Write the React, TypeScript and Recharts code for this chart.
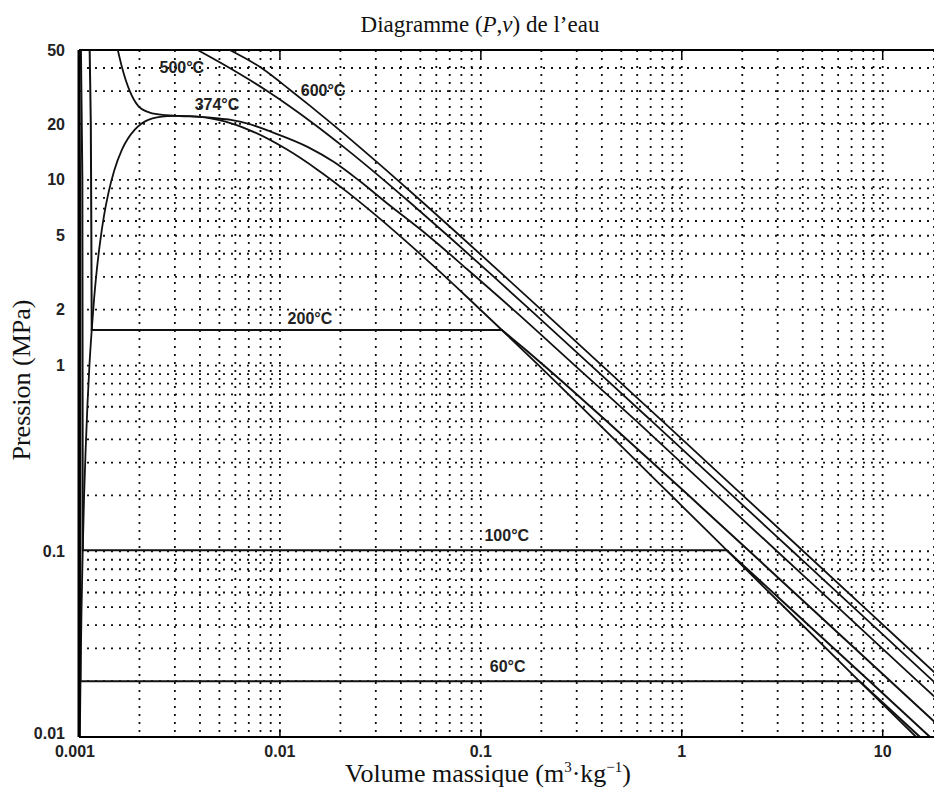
import React from 'react';
import { LineChart, Line, XAxis, YAxis, CartesianGrid, ReferenceLine, ReferenceDot } from 'recharts';

const W = 934;
const H = 789;

// Grid ticks (log axes)
const xGridTicks = [
  0.001, 0.002, 0.003, 0.004, 0.005, 0.006, 0.007, 0.008, 0.009,
  0.01, 0.02, 0.03, 0.04, 0.05, 0.06, 0.07, 0.08, 0.09,
  0.1, 0.2, 0.3, 0.4, 0.5, 0.6, 0.7, 0.8, 0.9,
  1, 2, 3, 4, 5, 6, 7, 8, 9, 10,
];
const yGridTicks = [
  0.01, 0.02, 0.03, 0.04, 0.05, 0.06, 0.07, 0.08, 0.09,
  0.1, 0.2, 0.3, 0.4, 0.5, 0.6, 0.7, 0.8, 0.9,
  1, 2, 3, 4, 5, 6, 7, 8, 9,
  10, 20, 30, 40, 50,
];
const xTickLabels = [0.001, 0.01, 0.1, 1, 10];
const yTickLabels = [0.01, 0.1, 1, 2, 5, 10, 20, 50];
const xMajorMarks = [0.01, 0.1, 1, 10];

// Saturation dome (v in m3/kg, p in MPa)
const saturationCurve = [
  { v: 0.00101, p: 0.01 },
  { v: 0.001017, p: 0.01995 },
  { v: 0.001029, p: 0.04739 },
  { v: 0.001044, p: 0.1013 },
  { v: 0.00106, p: 0.1985 },
  { v: 0.00108, p: 0.3613 },
  { v: 0.001102, p: 0.6178 },
  { v: 0.001127, p: 1.002 },
  { v: 0.001157, p: 1.554 },
  { v: 0.00119, p: 2.318 },
  { v: 0.001229, p: 3.344 },
  { v: 0.001276, p: 4.688 },
  { v: 0.001332, p: 6.412 },
  { v: 0.001404, p: 8.581 },
  { v: 0.001499, p: 11.27 },
  { v: 0.001638, p: 14.59 },
  { v: 0.001895, p: 18.65 },
  { v: 0.002036, p: 20.0 },
  { v: 0.002213, p: 21.03 },
  { v: 0.00275, p: 22.0 },
  { v: 0.003155, p: 22.09 },
  { v: 0.00357, p: 22.0 },
  { v: 0.004926, p: 21.03 },
  { v: 0.005834, p: 20.0 },
  { v: 0.006945, p: 18.65 },
  { v: 0.0108, p: 14.59 },
  { v: 0.01549, p: 11.27 },
  { v: 0.02167, p: 8.581 },
  { v: 0.03016, p: 6.412 },
  { v: 0.04219, p: 4.688 },
  { v: 0.05975, p: 3.344 },
  { v: 0.08609, p: 2.318 },
  { v: 0.1272, p: 1.554 },
  { v: 0.1941, p: 1.002 },
  { v: 0.3071, p: 0.6178 },
  { v: 0.5089, p: 0.3613 },
  { v: 0.8915, p: 0.1985 },
  { v: 1.672, p: 0.1013 },
  { v: 3.405, p: 0.04739 },
  { v: 7.667, p: 0.01995 },
  { v: 14.67, p: 0.01 },
];

const iso60 = [
  { v: 0.000995, p: 50 },
  { v: 0.001012, p: 10 },
  { v: 0.001017, p: 0.01995 },
  { v: 7.667, p: 0.01995 },
  { v: 15.34, p: 0.01 },
];

const iso100 = [
  { v: 0.001022, p: 50 },
  { v: 0.001039, p: 10 },
  { v: 0.001044, p: 0.1013 },
  { v: 1.673, p: 0.1013 },
  { v: 3.418, p: 0.05 },
  { v: 8.585, p: 0.02 },
  { v: 17.196, p: 0.01 },
];

const iso200 = [
  { v: 0.00113, p: 50 },
  { v: 0.001145, p: 20 },
  { v: 0.001152, p: 5 },
  { v: 0.001157, p: 1.554 },
  { v: 0.1272, p: 1.554 },
  { v: 0.143, p: 1.4 },
  { v: 0.1693, p: 1.2 },
  { v: 0.206, p: 1.0 },
  { v: 0.2608, p: 0.8 },
  { v: 0.4249, p: 0.5 },
  { v: 1.0803, p: 0.2 },
  { v: 2.172, p: 0.1 },
  { v: 4.356, p: 0.05 },
  { v: 10.9, p: 0.02 },
  { v: 21.83, p: 0.01 },
];

const iso374 = [
  { v: 0.00156, p: 50 },
  { v: 0.00164, p: 40 },
  { v: 0.00179, p: 30 },
  { v: 0.00197, p: 25 },
  { v: 0.00225, p: 23 },
  { v: 0.0027, p: 22.3 },
  { v: 0.0032, p: 22.05 },
  { v: 0.004, p: 21.8 },
  { v: 0.0048, p: 21.45 },
  { v: 0.0057, p: 21.0 },
  { v: 0.007, p: 20.0 },
  { v: 0.0092, p: 18.0 },
  { v: 0.0138, p: 15.0 },
  { v: 0.0185, p: 12.5 },
  { v: 0.0245, p: 10 },
  { v: 0.034, p: 7.5 },
  { v: 0.0547, p: 5 },
  { v: 0.0855, p: 3.3 },
  { v: 0.145, p: 2 },
  { v: 0.294, p: 1 },
  { v: 0.597, p: 0.5 },
  { v: 1.49, p: 0.2 },
  { v: 2.98, p: 0.1 },
  { v: 5.97, p: 0.05 },
  { v: 14.9, p: 0.02 },
  { v: 29.9, p: 0.01 },
];

const iso500 = [
  { v: 0.003892, p: 50 },
  { v: 0.005622, p: 40 },
  { v: 0.008679, p: 30 },
  { v: 0.011123, p: 25 },
  { v: 0.01477, p: 20 },
  { v: 0.0208, p: 15 },
  { v: 0.03279, p: 10 },
  { v: 0.0447, p: 7.5 },
  { v: 0.06857, p: 5 },
  { v: 0.1162, p: 3 },
  { v: 0.1757, p: 2 },
  { v: 0.3541, p: 1 },
  { v: 0.7109, p: 0.5 },
  { v: 1.7814, p: 0.2 },
  { v: 3.565, p: 0.1 },
  { v: 7.134, p: 0.05 },
  { v: 17.84, p: 0.02 },
  { v: 35.68, p: 0.01 },
];

const iso600 = [
  { v: 0.005623, p: 50 },
  { v: 0.008094, p: 40 },
  { v: 0.011446, p: 30 },
  { v: 0.014137, p: 25 },
  { v: 0.01818, p: 20 },
  { v: 0.02491, p: 15 },
  { v: 0.03837, p: 10 },
  { v: 0.0518, p: 7.5 },
  { v: 0.07869, p: 5 },
  { v: 0.1324, p: 3 },
  { v: 0.1996, p: 2 },
  { v: 0.4011, p: 1 },
  { v: 0.8041, p: 0.5 },
  { v: 2.013, p: 0.2 },
  { v: 4.028, p: 0.1 },
  { v: 8.057, p: 0.05 },
  { v: 20.14, p: 0.02 },
  { v: 40.29, p: 0.01 },
];

const curveLabels = [
  { v: 0.00325, p: 40.3, text: '500°C' },
  { v: 0.0164, p: 30.5, text: '600°C' },
  { v: 0.00486, p: 25.6, text: '374°C' },
  { v: 0.0141, p: 1.8, text: '200°C' },
  { v: 0.1346, p: 0.1223, text: '100°C' },
  { v: 0.136, p: 0.0241, text: '60°C' },
];

const SANS = '"Liberation Sans", Arial, sans-serif';
const SERIF = '"Liberation Serif", "Times New Roman", serif';

const XTick = (props: any) => {
  const { x, y, payload } = props;
  if (!xTickLabels.includes(payload.value)) return <g />;
  const dx = payload.value === 0.001 ? -4 : 0;
  return (
    <text x={x + dx} y={y + 1} dy="0.71em" textAnchor="middle" fontFamily={SANS} fontSize={16} fontWeight="bold" fill="#222">
      {String(payload.value)}
    </text>
  );
};

const YTick = (props: any) => {
  const { x, y, payload } = props;
  if (!yTickLabels.includes(payload.value)) return <g />;
  const dy = payload.value === 0.01 ? -4 : 0;
  return (
    <text x={x - 6} y={y + dy} dy="0.35em" textAnchor="end" fontFamily={SANS} fontSize={16} fontWeight="bold" fill="#222">
      {String(payload.value)}
    </text>
  );
};

const lineProps = {
  dataKey: 'p',
  dot: false,
  activeDot: false,
  isAnimationActive: false,
  stroke: '#111',
  strokeWidth: 1.8,
};

export default function App() {
  return (
    <div style={{ position: 'absolute', left: 0, top: 0, width: W, height: H, background: '#fff' }}>
      <LineChart width={W} height={H} margin={{ top: 50, right: 0, bottom: 0, left: 0 }}>
        <CartesianGrid stroke="#111" strokeWidth={1.8} strokeDasharray="2 6" />
        <XAxis
          dataKey="v"
          type="number"
          scale="log"
          domain={[0.001, 18]}
          allowDataOverflow
          ticks={xGridTicks}
          interval={0}
          tick={(p: any) => <XTick {...p} />}
          tickLine={false}
          axisLine={{ stroke: '#000', strokeWidth: 2 }}
          height={52}
        />
        <YAxis
          type="number"
          scale="log"
          domain={[0.01, 50]}
          allowDataOverflow
          ticks={yGridTicks}
          interval={0}
          tick={(p: any) => <YTick {...p} />}
          tickLine={false}
          axisLine={{ stroke: '#000', strokeWidth: 3 }}
          width={79}
        />
        <ReferenceLine y={50} stroke="#000" strokeWidth={2} />
        {xMajorMarks.map((v) => (
          <ReferenceLine key={'top' + v} segment={[{ x: v, y: 50 }, { x: v, y: 45.3 }]} stroke="#000" strokeWidth={1.5} />
        ))}
        {xMajorMarks.map((v) => (
          <ReferenceLine key={'bot' + v} segment={[{ x: v, y: 0.01 }, { x: v, y: 0.011 }]} stroke="#000" strokeWidth={1.5} />
        ))}
        <Line {...lineProps} data={saturationCurve} type="monotone" />
        <Line {...lineProps} data={iso60} type="linear" strokeWidth={2} />
        <Line {...lineProps} data={iso100} type="linear" strokeWidth={2} />
        <Line {...lineProps} data={iso200} type="linear" strokeWidth={2} />
        <Line {...lineProps} data={iso374} type="monotone" />
        <Line {...lineProps} data={iso500} type="monotone" />
        <Line {...lineProps} data={iso600} type="monotone" />
        {curveLabels.map((l) => (
          <ReferenceDot
            key={l.text}
            x={l.v}
            y={l.p}
            r={0}
            stroke="none"
            fill="none"
            label={{ value: l.text, position: 'center', fill: '#222', fontSize: 16, fontWeight: 'bold', fontFamily: SANS }}
          />
        ))}
      </LineChart>
      <svg width={W} height={H} style={{ position: 'absolute', left: 0, top: 0, pointerEvents: 'none' }}>
        <text x={480} y={32} textAnchor="middle" fontFamily={SERIF} fontSize={23} fill="#111">
          Diagramme (<tspan fontStyle="italic">P</tspan>,<tspan fontStyle="italic">v</tspan>) de l’eau
        </text>
        <text x={488} y={782} textAnchor="middle" fontFamily={SERIF} fontSize={26} fill="#111">
          Volume massique (m<tspan dy={-10} fontSize={15}>3</tspan>
          <tspan dy={10}>·kg</tspan>
          <tspan dy={-10} fontSize={15}>−1</tspan>
          <tspan dy={10}>)</tspan>
        </text>
        <text transform="rotate(-90)" x={-380} y={30} textAnchor="middle" fontFamily={SERIF} fontSize={26} fill="#111">
          Pression (MPa)
        </text>
      </svg>
    </div>
  );
}
